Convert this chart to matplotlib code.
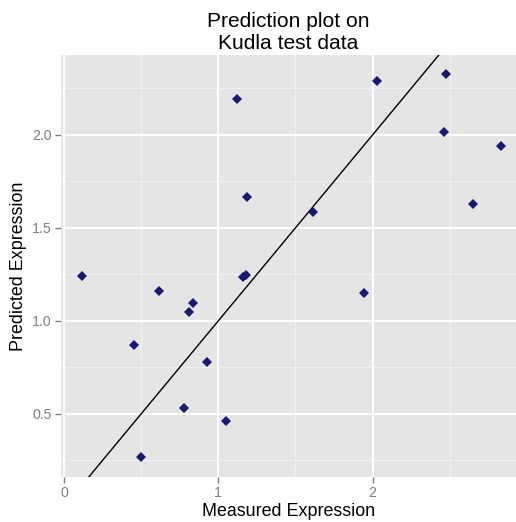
import matplotlib
matplotlib.use("Agg")
import matplotlib.pyplot as plt
import numpy as np

# Data
measured = [0.117, 0.454, 0.499, 0.614, 0.780, 0.810, 0.834, 0.925, 1.050,
            1.123, 1.161, 1.180, 1.184, 1.616, 1.946, 2.031, 2.461, 2.476,
            2.653, 2.834]
predicted = [1.242, 0.873, 0.267, 1.163, 0.532, 1.047, 1.097, 0.781, 0.464,
             2.194, 1.237, 1.247, 1.667, 1.586, 1.149, 2.289, 2.014, 2.328,
             1.627, 1.941]

x_ticks = [0, 1, 2]
x_tick_labels = ["0", "1", "2"]
y_ticks = [0.5, 1.0, 1.5, 2.0]
y_tick_labels = ["0.5", "1.0", "1.5", "2.0"]
x_minor = [0.5, 1.5, 2.5]
y_minor = [0.25, 0.75, 1.25, 1.75, 2.25]

plt.rcParams['font.family'] = ['Liberation Sans', 'DejaVu Sans']

W, H = 516, 522
fig = plt.figure(figsize=(W / 100, H / 100), dpi=100)
left, right, top, bottom = 61, 516, 55, 477
ax = fig.add_axes([left / W, 1 - bottom / H, (right - left) / W, (bottom - top) / H])

ax.set_facecolor('#E5E5E5')
for s in ax.spines.values():
    s.set_visible(False)

ax.set_xlim(-0.019, 2.93)
ax.set_ylim(0.161, 2.43)

ax.set_xticks(x_ticks)
ax.set_xticklabels(x_tick_labels)
ax.set_yticks(y_ticks)
ax.set_yticklabels(y_tick_labels)
ax.set_xticks(x_minor, minor=True)
ax.set_yticks(y_minor, minor=True)

ax.grid(which='major', color='white', linewidth=1.4)
ax.grid(which='minor', color='#F2F2F2', linewidth=0.7)
ax.set_axisbelow(True)

ax.tick_params(which='major', length=4, width=1.0, color='#7F7F7F',
               labelcolor='#7F7F7F', labelsize=10.2, pad=2.5)
ax.tick_params(which='minor', length=0)

# identity line
lims = np.array([-1, 4])
ax.plot(lims, lims, color='black', linewidth=1.0, zorder=2)

ax.plot(measured, predicted, linestyle='none', marker='D', markersize=4.7,
        color='#191970', markeredgewidth=0, zorder=3)

ax.set_xlabel('Measured Expression', fontsize=12.9, color='black', labelpad=2)
ax.set_ylabel('Predicted Expression', fontsize=12.9, color='black', labelpad=4)
ax.set_title('Prediction plot on\nKudla test data', fontsize=15.1, color='black',
             pad=4, linespacing=1.25)

fig.savefig('out.png', dpi=100, facecolor='white')
